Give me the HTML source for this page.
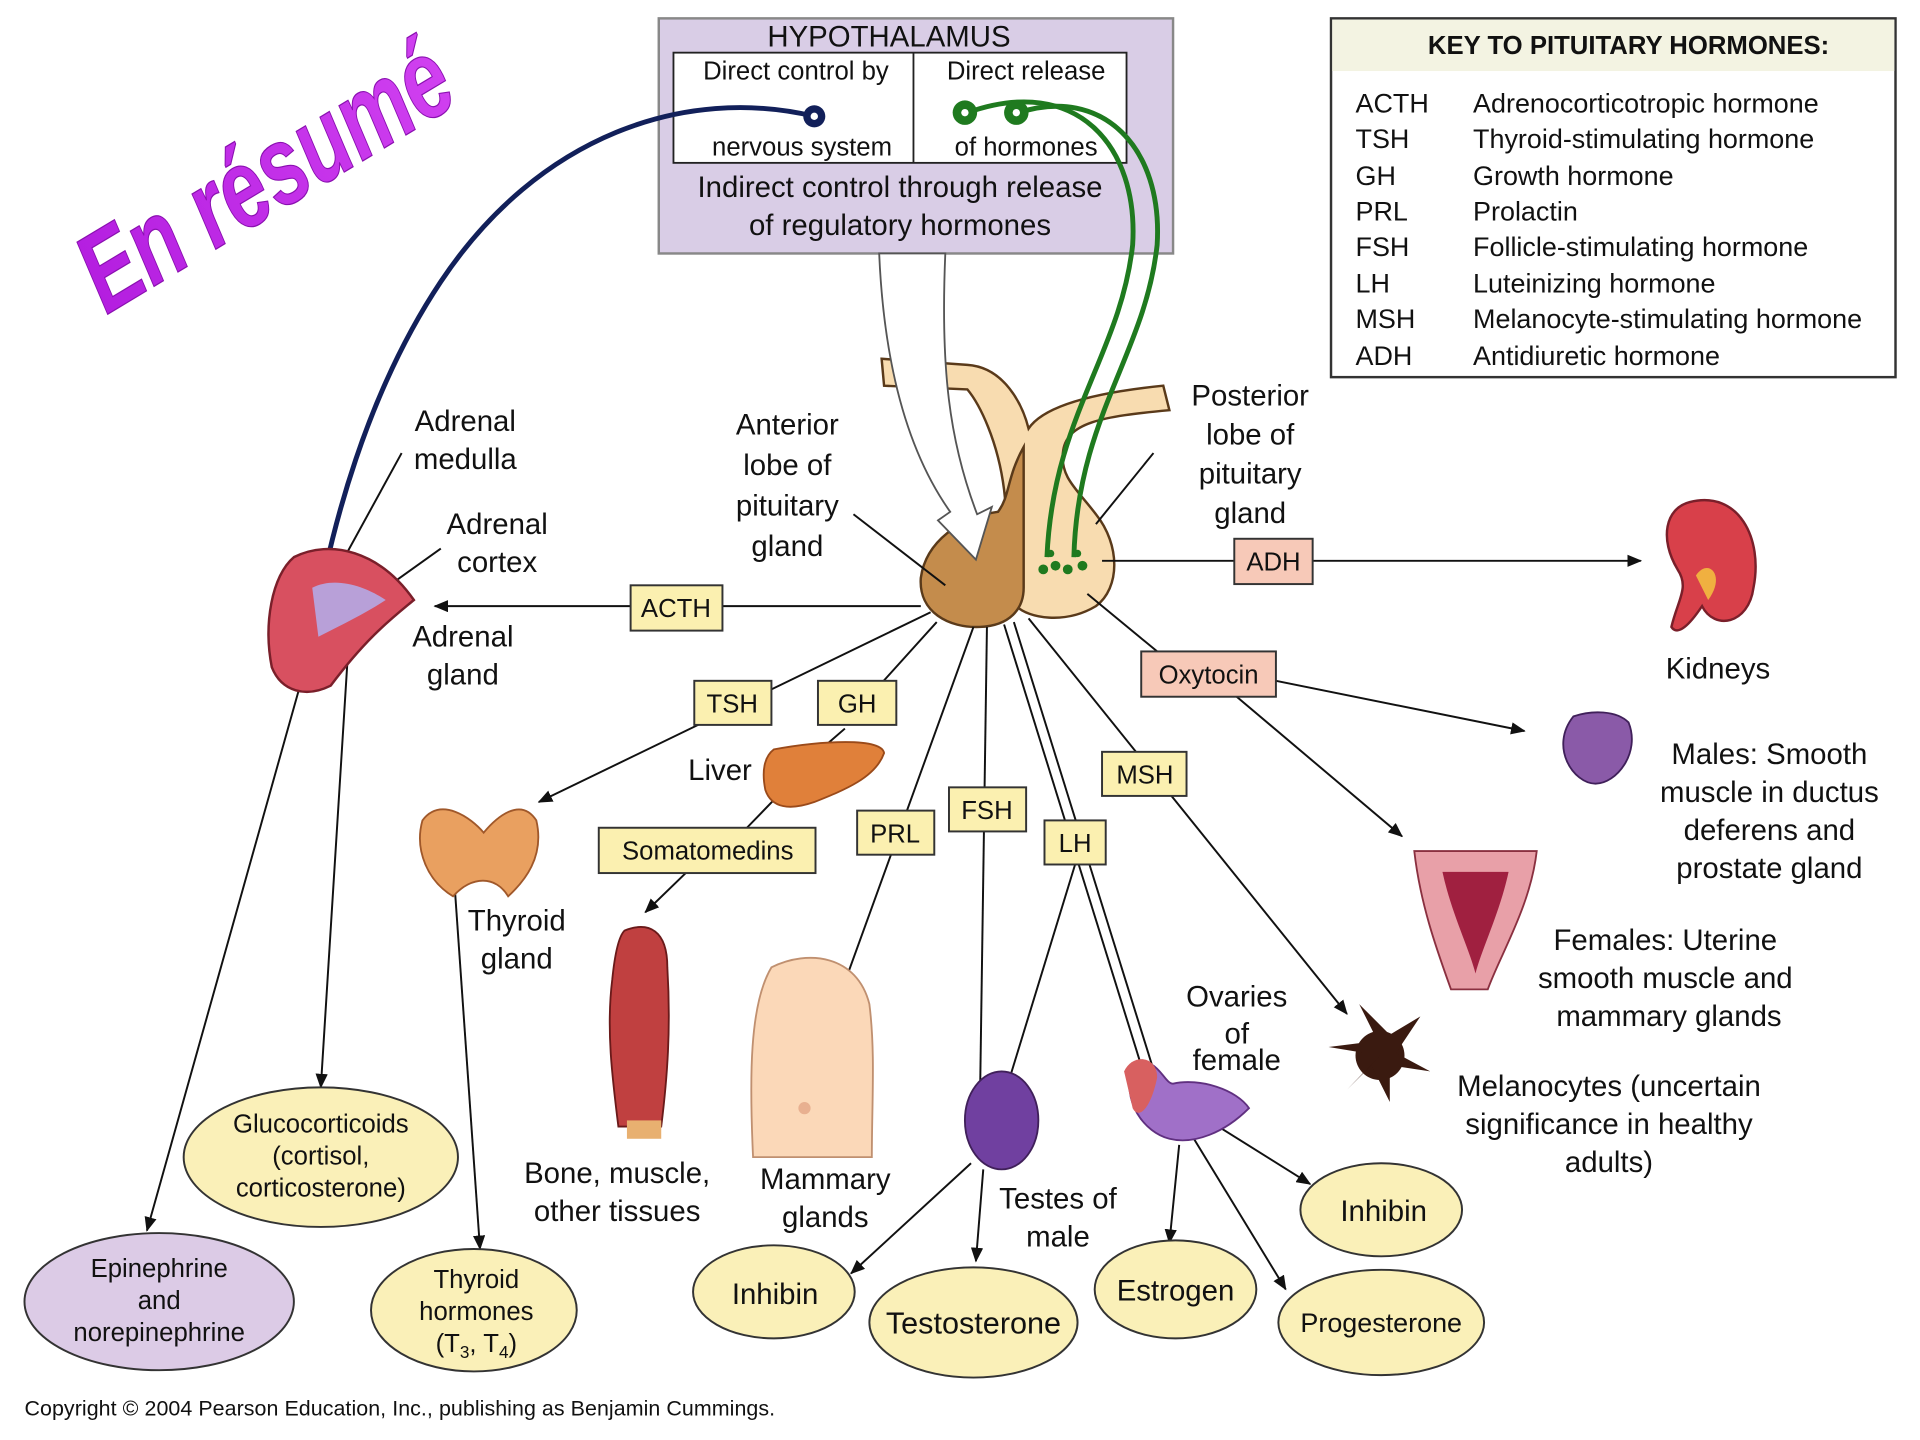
<!DOCTYPE html>
<html><head><meta charset="utf-8"><style>
html,body{margin:0;padding:0;background:#fff;width:1920px;height:1440px;overflow:hidden}
svg{display:block}
text{font-family:"Liberation Sans",sans-serif;fill:#111}
</style></head><body>
<svg width="1920" height="1440" viewBox="0 0 1568 1176" preserveAspectRatio="none" xmlns="http://www.w3.org/2000/svg">
<defs>
<linearGradient id="pg" x1="0" y1="0" x2="1" y2="0"><stop offset="0" stop-color="#b41ee0"/><stop offset="1" stop-color="#d040f0"/></linearGradient>
<marker id="ar" markerWidth="12" markerHeight="10" refX="11" refY="5" orient="auto" markerUnits="userSpaceOnUse"><path d="M0,0 L12,5 L0,10 Z" fill="#111"/></marker>
</defs>
<rect width="1568" height="1176" fill="#fff"/>

<!-- En résumé -->
<g transform="translate(232,170) rotate(-31)">
<text x="0" y="0" text-anchor="middle" font-size="92" font-weight="bold" font-style="italic" style="fill:url(#pg);stroke:#8a10b0;stroke-width:1" transform="scale(0.72,1)">En résumé</text>
</g>

<!-- Hypothalamus -->
<rect x="538" y="15" width="420" height="192" fill="#d9cde6" stroke="#888" stroke-width="2"/>
<rect x="550" y="43" width="370" height="90" fill="#fff" stroke="#222" stroke-width="1.5"/>
<line x1="746" y1="43" x2="746" y2="133" stroke="#222" stroke-width="1.5"/>
<text x="726" y="38" font-size="24" text-anchor="middle">HYPOTHALAMUS</text>
<text x="650" y="65" font-size="21" text-anchor="middle">Direct control by</text>
<text x="655" y="127" font-size="21" text-anchor="middle">nervous system</text>
<text x="838" y="65" font-size="21" text-anchor="middle">Direct release</text>
<text x="838" y="127" font-size="21" text-anchor="middle">of hormones</text>
<text x="735" y="161" font-size="24" text-anchor="middle">Indirect control through release</text>
<text x="735" y="192" font-size="24" text-anchor="middle">of regulatory hormones</text>

<!-- Key -->
<rect x="1087" y="15" width="461" height="293" fill="#fff" stroke="#333" stroke-width="2"/>
<rect x="1088" y="16" width="459" height="42" fill="#f3f3e2"/>
<text x="1330" y="44" font-size="21" font-weight="bold" text-anchor="middle">KEY TO PITUITARY HORMONES:</text>
<g font-size="22">
<text x="1107" y="92">ACTH</text><text x="1203" y="92">Adrenocorticotropic hormone</text>
<text x="1107" y="121">TSH</text><text x="1203" y="121">Thyroid-stimulating hormone</text>
<text x="1107" y="151">GH</text><text x="1203" y="151">Growth hormone</text>
<text x="1107" y="180">PRL</text><text x="1203" y="180">Prolactin</text>
<text x="1107" y="209">FSH</text><text x="1203" y="209">Follicle-stimulating hormone</text>
<text x="1107" y="239">LH</text><text x="1203" y="239">Luteinizing hormone</text>
<text x="1107" y="268">MSH</text><text x="1203" y="268">Melanocyte-stimulating hormone</text>
<text x="1107" y="298">ADH</text><text x="1203" y="298">Antidiuretic hormone</text>
</g>

<!-- Pituitary -->
<path d="M720,293 L790,298 C820,300 835,330 840,350 C850,335 880,322 950,315 L955,335 C900,340 870,345 868,370 C866,390 880,400 895,420 C915,445 915,480 895,495 C870,510 840,505 830,495 L820,400 C815,360 800,330 790,318 L722,315 Z" fill="#f8dcb0" stroke="#5a3a1a" stroke-width="2"/>
<path d="M836,365 C822,390 825,405 815,418 C785,422 756,442 752,472 C750,500 775,513 800,512 C825,511 836,497 836,480 Z" fill="#c48c4c" stroke="#5a3a1a" stroke-width="2"/>
<!-- white arrow -->
<path d="M718,207 C722,300 742,370 776,418 L766,425 L797,457 L810,414 L798,420 C775,360 768,300 772,207 Z" fill="#fff" stroke="#555" stroke-width="1.5"/>
<!-- nerve blue -->
<path d="M665,95 C560,70 440,110 360,230 C300,320 270,430 255,520" fill="none" stroke="#12205a" stroke-width="4"/>
<circle cx="665" cy="95" r="9" fill="#12205a"/><circle cx="665" cy="95" r="3" fill="#fff"/>
<!-- green -->
<g fill="none" stroke="#1f7a1f" stroke-width="4">
<path d="M790,92 C880,60 930,120 925,200 C915,290 860,340 855,455"/>
<path d="M832,92 C900,70 950,120 945,200 C935,290 880,340 877,455"/>
</g>
<circle cx="788" cy="92" r="10" fill="#1f7a1f"/><circle cx="788" cy="92" r="3" fill="#fff"/>
<circle cx="830" cy="92" r="10" fill="#1f7a1f"/><circle cx="830" cy="92" r="3" fill="#fff"/>
<g fill="#1f7a1f"><circle cx="852" cy="465" r="4"/><circle cx="862" cy="462" r="4"/><circle cx="872" cy="465" r="4"/><circle cx="884" cy="462" r="4"/><circle cx="858" cy="452" r="3"/><circle cx="880" cy="452" r="3"/></g>

<!-- connectors -->
<g stroke="#111" stroke-width="1.6" fill="none">
<line x1="752" y1="495" x2="355" y2="495" marker-end="url(#ar)"/>
<line x1="900" y1="458" x2="1340" y2="458" marker-end="url(#ar)"/>
<line x1="760" y1="500" x2="440" y2="655" marker-end="url(#ar)"/>
<line x1="765" y1="508" x2="700" y2="580"/>
<line x1="690" y1="595" x2="675" y2="608"/>
<line x1="640" y1="645" x2="610" y2="676"/>
<line x1="560" y1="713" x2="527" y2="745" marker-end="url(#ar)"/>
<line x1="795" y1="512" x2="678" y2="835" marker-end="url(#ar)"/>
<line x1="806" y1="512" x2="800" y2="920" marker-end="url(#ar)"/>
<line x1="820" y1="510" x2="945" y2="912" marker-end="url(#ar)"/>
<line x1="828" y1="508" x2="958" y2="925" marker-end="url(#ar)"/>
<line x1="878" y1="706" x2="810" y2="928" marker-end="url(#ar)"/>
<line x1="840" y1="505" x2="1100" y2="828" marker-end="url(#ar)"/>
<line x1="888" y1="485" x2="945" y2="532"/>
<line x1="1042" y1="556" x2="1245" y2="597" marker-end="url(#ar)"/>
<line x1="1010" y1="569" x2="1145" y2="683" marker-end="url(#ar)"/>
<line x1="245" y1="560" x2="120" y2="1005" marker-end="url(#ar)"/>
<line x1="285" y1="520" x2="262" y2="888" marker-end="url(#ar)"/>
<line x1="370" y1="705" x2="392" y2="1020" marker-end="url(#ar)"/>
<line x1="793" y1="950" x2="695" y2="1040" marker-end="url(#ar)"/>
<line x1="803" y1="955" x2="797" y2="1030" marker-end="url(#ar)"/>
<line x1="963" y1="935" x2="955" y2="1015" marker-end="url(#ar)"/>
<line x1="975" y1="930" x2="1050" y2="1053" marker-end="url(#ar)"/>
<line x1="995" y1="920" x2="1070" y2="967" marker-end="url(#ar)"/>
<line x1="328" y1="370" x2="265" y2="485"/>
<line x1="360" y1="448" x2="318" y2="478"/>
<line x1="697" y1="420" x2="772" y2="478"/>
<line x1="942" y1="370" x2="895" y2="428"/>
</g>

<!-- adrenal -->
<path d="M240,455 C270,440 310,450 338,490 C320,505 300,520 270,560 C250,570 230,565 222,545 C215,510 222,470 240,455 Z" fill="#d85060" stroke="#7a1f2a" stroke-width="2"/>
<path d="M255,480 C275,470 300,480 315,490 C300,500 280,510 260,520 Z" fill="#b8a0d8"/>
<!-- kidney -->
<path d="M1380,410 C1420,400 1440,440 1432,480 C1428,510 1400,515 1390,495 C1380,510 1370,520 1365,512 C1370,490 1380,480 1370,465 C1355,440 1360,415 1380,410 Z" fill="#d8404a" stroke="#7a1f2a" stroke-width="2"/>
<path d="M1385,470 C1395,455 1410,470 1395,490 Z" fill="#f0b040"/>
<!-- thyroid -->
<path d="M345,670 C360,650 385,668 395,680 C405,668 425,650 438,670 C445,700 428,720 415,732 C405,715 385,715 370,732 C350,720 338,695 345,670 Z" fill="#e9a060" stroke="#a0582a" stroke-width="1.5"/>
<!-- liver -->
<path d="M632,612 C670,605 720,602 722,615 C715,635 690,645 665,655 C645,662 630,660 625,645 C622,630 624,618 632,612 Z" fill="#e0803a" stroke="#9a4a1a" stroke-width="1.5"/>
<!-- muscle -->
<path d="M510,760 C530,752 545,760 545,790 C548,840 545,880 540,920 L505,920 C500,880 495,840 500,800 C502,780 505,765 510,760 Z" fill="#c04040" stroke="#6a1a1a" stroke-width="1.5"/>
<rect x="512" y="915" width="28" height="15" fill="#e8b070"/>
<!-- breast -->
<path d="M630,790 C660,775 700,780 710,820 C715,860 712,900 712,945 L615,945 C612,880 612,820 630,790 Z" fill="#fbd8b8" stroke="#c09070" stroke-width="1.5"/>
<circle cx="657" cy="905" r="5" fill="#e8b090"/>
<!-- testes -->
<ellipse cx="818" cy="915" rx="30" ry="40" fill="#7040a0" stroke="#40205a" stroke-width="1.5"/>
<!-- ovary -->
<path d="M925,870 C945,860 950,885 958,885 C980,880 1010,890 1020,905 C1000,925 975,935 955,930 C935,925 915,900 925,870 Z" fill="#a070c8" stroke="#603080" stroke-width="1.5"/>
<path d="M918,875 C925,860 945,862 945,880 C940,905 930,915 925,905 Z" fill="#d86060"/>
<!-- melanocyte -->
<g fill="#3a1a10"><circle cx="1127" cy="862" r="20"/>
<path d="M1127,862 L1085,855 L1125,850 L1110,820 L1135,845 L1160,830 L1140,860 L1168,875 L1135,870 L1135,900 L1120,870 L1100,890 Z"/></g>
<!-- uterus -->
<path d="M1155,695 L1255,695 C1250,740 1225,780 1215,808 L1185,808 C1175,780 1160,740 1155,695 Z" fill="#e8a0a8" stroke="#8a3040" stroke-width="1.5"/>
<path d="M1178,712 L1232,712 C1225,745 1210,775 1205,795 C1200,775 1185,745 1178,712 Z" fill="#a02040"/>
<!-- prostate -->
<path d="M1285,585 C1300,580 1320,580 1330,590 C1340,615 1320,640 1303,640 C1285,640 1265,610 1285,585 Z" fill="#8a5aa8" stroke="#40205a" stroke-width="1.5"/>

<!-- label boxes -->
<g font-size="21" text-anchor="middle" stroke-width="1.6">
<rect x="515" y="478" width="75" height="37" fill="#fbf0b0" stroke="#333"/><text x="552" y="504">ACTH</text>
<rect x="1008" y="440" width="64" height="37" fill="#f7c9b8" stroke="#333"/><text x="1040" y="466">ADH</text>
<rect x="932" y="532" width="110" height="37" fill="#f7c9b8" stroke="#333"/><text x="987" y="558">Oxytocin</text>
<rect x="567" y="556" width="63" height="36" fill="#fbf0b0" stroke="#333"/><text x="598" y="582">TSH</text>
<rect x="668" y="556" width="64" height="36" fill="#fbf0b0" stroke="#333"/><text x="700" y="582">GH</text>
<rect x="900" y="614" width="69" height="36" fill="#fbf0b0" stroke="#333"/><text x="935" y="640">MSH</text>
<rect x="775" y="643" width="63" height="36" fill="#fbf0b0" stroke="#333"/><text x="806" y="669">FSH</text>
<rect x="853" y="670" width="50" height="36" fill="#fbf0b0" stroke="#333"/><text x="878" y="696">LH</text>
<rect x="700" y="662" width="63" height="36" fill="#fbf0b0" stroke="#333"/><text x="731" y="688">PRL</text>
<rect x="489" y="676" width="177" height="37" fill="#fbf0b0" stroke="#333"/><text x="578" y="702">Somatomedins</text>
</g>

<!-- ellipses -->
<g stroke="#333" stroke-width="1.6">
<ellipse cx="262" cy="945" rx="112" ry="57" fill="#faf0b8"/>
<ellipse cx="130" cy="1063" rx="110" ry="56" fill="#dccbe6"/>
<ellipse cx="387" cy="1070" rx="84" ry="50" fill="#faf0b8"/>
<ellipse cx="632" cy="1055" rx="66" ry="38" fill="#faf0b8"/>
<ellipse cx="795" cy="1080" rx="85" ry="45" fill="#faf0b8"/>
<ellipse cx="960" cy="1053" rx="66" ry="40" fill="#faf0b8"/>
<ellipse cx="1128" cy="1080" rx="84" ry="43" fill="#faf0b8"/>
<ellipse cx="1128" cy="988" rx="66" ry="38" fill="#faf0b8"/>
</g>
<g text-anchor="middle">
<text x="262" y="925" font-size="21">Glucocorticoids</text><text x="262" y="951" font-size="21">(cortisol,</text><text x="262" y="977" font-size="21">corticosterone)</text>
<text x="130" y="1043" font-size="21">Epinephrine</text><text x="130" y="1069" font-size="21">and</text><text x="130" y="1095" font-size="21">norepinephrine</text>
<text x="389" y="1052" font-size="21">Thyroid</text><text x="389" y="1078" font-size="21">hormones</text><text x="389" y="1104" font-size="21">(T<tspan font-size="14" dy="5">3</tspan><tspan dy="-5">, T</tspan><tspan font-size="14" dy="5">4</tspan><tspan dy="-5">)</tspan></text>
<text x="633" y="1065" font-size="24">Inhibin</text>
<text x="795" y="1089" font-size="25">Testosterone</text>
<text x="960" y="1062" font-size="24">Estrogen</text>
<text x="1128" y="1088" font-size="22">Progesterone</text>
<text x="1130" y="997" font-size="24">Inhibin</text>
</g>

<!-- text labels -->
<g font-size="24" text-anchor="middle">
<text x="380" y="352">Adrenal</text><text x="380" y="383">medulla</text>
<text x="406" y="436">Adrenal</text><text x="406" y="467">cortex</text>
<text x="378" y="528">Adrenal</text><text x="378" y="559">gland</text>
<text x="643" y="355">Anterior</text><text x="643" y="388">lobe of</text><text x="643" y="421">pituitary</text><text x="643" y="454">gland</text>
<text x="1021" y="331">Posterior</text><text x="1021" y="363">lobe of</text><text x="1021" y="395">pituitary</text><text x="1021" y="427">gland</text>
<text x="1403" y="554">Kidneys</text>
<text x="1445" y="624">Males: Smooth</text><text x="1445" y="655">muscle in ductus</text><text x="1445" y="686">deferens and</text><text x="1445" y="717">prostate gland</text>
<text x="1360" y="776">Females: Uterine</text><text x="1360" y="807">smooth muscle and</text><text x="1363" y="838">mammary glands</text>
<text x="1314" y="895">Melanocytes (uncertain</text><text x="1314" y="926">significance in healthy</text><text x="1314" y="957">adults)</text>
<text x="1010" y="822">Ovaries</text><text x="1010" y="852">of</text><text x="1010" y="874">female</text>
<text x="864" y="987">Testes of</text><text x="864" y="1018">male</text>
<text x="674" y="971">Mammary</text><text x="674" y="1002">glands</text>
<text x="504" y="966">Bone, muscle,</text><text x="504" y="997">other tissues</text>
<text x="422" y="760">Thyroid</text><text x="422" y="791">gland</text>
<text x="588" y="637">Liver</text>
</g>
<text x="20" y="1156" font-size="17.5" textLength="613">Copyright © 2004 Pearson Education, Inc., publishing as Benjamin Cummings.</text>
</svg>
</body></html>
